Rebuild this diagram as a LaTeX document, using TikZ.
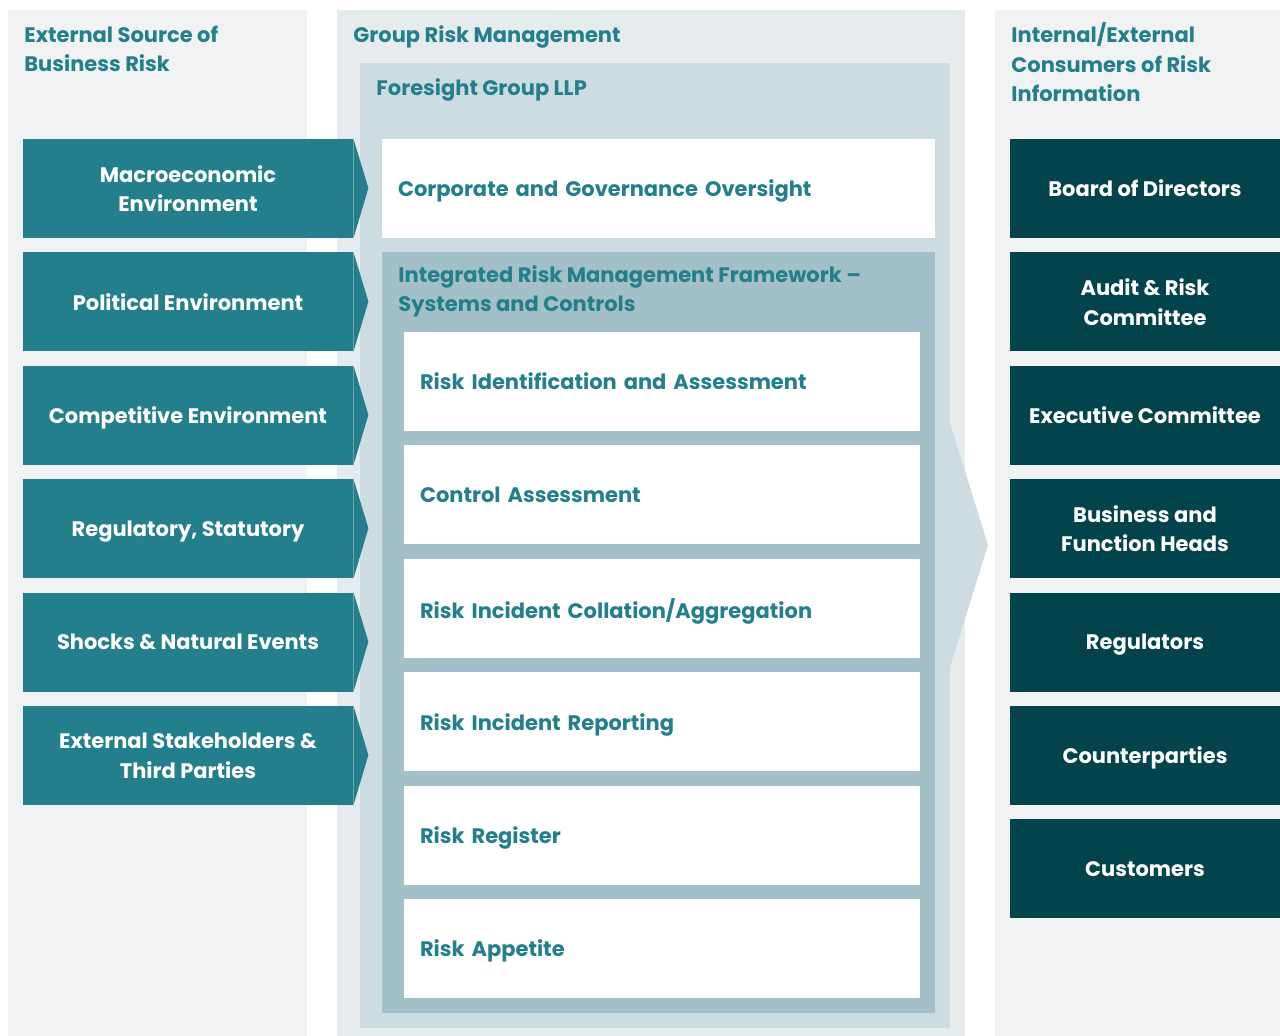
\documentclass[tikz,border=0pt]{standalone}
\usepackage{fontspec}
\setmainfont{Poppins}
\usetikzlibrary{positioning,calc}
\definecolor{panelgray}{HTML}{F0F2F4}
\definecolor{panelblue}{HTML}{E6EBEE}
\definecolor{foresight}{HTML}{CDDCE1}
\definecolor{framework}{HTML}{A3BFC8}
\definecolor{riskteal}{HTML}{237F8C}
\definecolor{riskdark}{HTML}{03434B}
\tikzset{
  every node/.style={font=\fontsize{10.5}{14.75}\selectfont\bfseries},
  % base anchor sits on the last line of a multi-line heading
  heading/.style={anchor=base west, align=left, text=riskteal, inner sep=0pt},
  source/.style={fill=riskteal, text=white, align=center, inner sep=0pt,
    text depth=0pt, minimum width=165pt, minimum height=49.5pt},
  consumer/.style={fill=riskdark, text=white, align=center, inner sep=0pt,
    text depth=0pt, minimum width=135pt, minimum height=49.5pt},
  process/.style={fill=white, text=riskteal, align=left, inner ysep=0pt,
    inner xsep=8pt, text depth=0pt, text width=242pt, minimum height=49.5pt},
}

\begin{document}
\begin{tikzpicture}[x=0.5pt, y=-0.5pt]
  \useasboundingbox[fill=white] (0,0) rectangle (1280,1036);
  % column panels
  \fill[panelgray] (8,10) rectangle (307,1036);
  \fill[panelblue] (337,10) rectangle (965,1036);
  \fill[panelgray] (995,10) rectangle (1280,1036);
  \fill[foresight] (360,63) rectangle (950,1028);
  \fill[foresight] (950,423) -- (988,545) -- (950,667) -- cycle;
  \fill[framework] (382,252) rectangle (935,1013);

  \node[heading] (srchead) at (24,72) {External Source of\\Business Risk};
  \node[heading] (grouphead) at (353,43) {Group Risk Management};
  \node[heading] (llphead) at (376,96) {Foresight Group LLP};
  \node[heading] (conshead) at (1011,102) {Internal/External\\Consumers of Risk\\Information};
  \node[heading] (irmfhead) at (398,312) {Integrated Risk Management Framework --\\Systems and Controls};

  % external sources, each with its arrow tip
  \foreach \txt [count=\i] in {{Macroeconomic\\Environment}, Political Environment,
      Competitive Environment, {Regulatory, Statutory}, Shocks \& Natural Events,
      {External Stakeholders \&\\Third Parties}} {
    \node[source] (src\i) at (188, {188.5+113.4*(\i-1)}) {\txt};
    \fill[riskteal] (src\i.north east) -- ++(15,49.5) -- (src\i.south east) -- cycle;
  }

  \node[process, text width=260.5pt] (oversight) at (658.5,188.5) {Corporate and Governance Oversight};
  \foreach \txt [count=\i] in {Risk Identification and Assessment, Control Assessment,
      Risk Incident Collation/Aggregation, Risk Incident Reporting, Risk Register,
      Risk Appetite} {
    \node[process] (step\i) at (662, {381.5+113.4*(\i-1)}) {\txt};
  }

  % consumers of risk information
  \foreach \txt [count=\i] in {Board of Directors, {Audit \& Risk\\Committee},
      Executive Committee, {Business and\\Function Heads}, Regulators,
      Counterparties, Customers} {
    \node[consumer] (cons\i) at (1145, {188.5+113.4*(\i-1)}) {\txt};
  }
\end{tikzpicture}
\end{document}
